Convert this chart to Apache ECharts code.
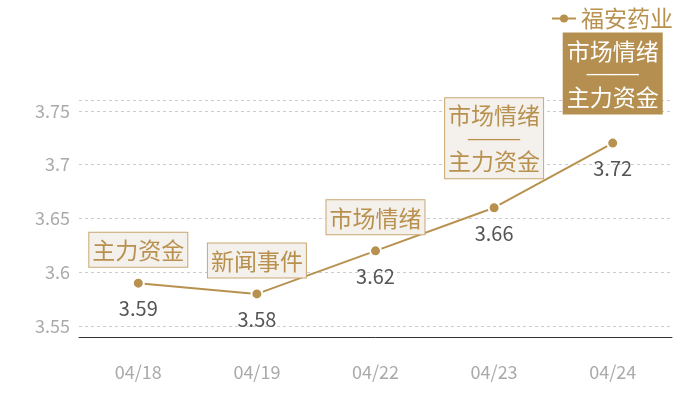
<!DOCTYPE html>
<html>
<head>
<meta charset="utf-8">
<script src="https://cdn.jsdelivr.net/npm/echarts@6/dist/echarts.min.js"></script>
<style>html,body{margin:0;padding:0;background:#fff}#c{width:700px;height:400px}</style>
</head>
<body>
<div id="c"></div>
<script>
var categories = ['04/18', '04/19', '04/22', '04/23', '04/24'];
var seriesName = '福安药业';
var prices = [3.59, 3.58, 3.62, 3.66, 3.72];
var eventLabels = ['主力资金', '新闻事件', '市场情绪', '市场情绪\n——\n主力资金', '市场情绪\n——\n主力资金'];
var highlightLast = [false, false, false, false, true];

var gold = '#b8914f';
var font = '"Noto Sans CJK SC", "Noto Sans", sans-serif';

function boxFormatter(p) {
  return p.name.split('\n').map(function (line) {
    return line.indexOf('—') >= 0 ? '{d|' + line + '}' : '{t|' + line + '}';
  }).join('\n');
}

var markData = categories.map(function (c, i) {
  var multi = eventLabels[i].indexOf('\n') >= 0;
  var hl = highlightLast[i];
  var col = hl ? '#ffffff' : gold;
  return {
    name: eventLabels[i],
    coord: [c, prices[i]],
    label: {
      show: true,
      position: 'top',
      distance: multi ? 29 : 16,
      formatter: boxFormatter,
      color: col,
      backgroundColor: hl ? '#b58f50' : '#f4f0eb',
      borderColor: hl ? '#b58f50' : '#c9a772',
      borderWidth: 1,
      padding: [6, 3, 5, 3],
      align: 'center',
      rich: {
        t: { fontFamily: font, fontSize: 23, lineHeight: 23, color: col },
        d: { fontFamily: '"Liberation Serif"', fontSize: 26, lineHeight: 23, color: col }
      }
    }
  };
});

var chart = echarts.init(document.getElementById('c'));
chart.setOption({
  animation: false,
  textStyle: { fontFamily: font },
  legend: {
    right: 22,
    top: 2,
    itemWidth: 24,
    itemHeight: 10,
    itemGap: 6,
    itemStyle: { borderWidth: 0 },
    textStyle: { color: gold, fontSize: 23, fontFamily: font },
    data: [seriesName]
  },
  grid: { left: 79, right: 28, top: 100, bottom: 63 },
  xAxis: {
    type: 'category',
    data: categories,
    boundaryGap: true,
    axisLine: { lineStyle: { color: '#333', width: 1 } },
    axisTick: { show: false },
    axisLabel: { color: '#aaaaaa', fontSize: 18, margin: 26, fontFamily: font }
  },
  yAxis: {
    type: 'value',
    min: 3.54,
    max: 3.76,
    splitNumber: 5,
    axisLine: { show: false },
    axisTick: { show: false },
    axisLabel: { color: '#aaaaaa', fontSize: 18, margin: 9, showMinLabel: false, showMaxLabel: false, fontFamily: font },
    splitLine: { lineStyle: { color: '#cccccc', type: [3, 3] } }
  },
  series: [{
    name: seriesName,
    type: 'line',
    data: prices,
    symbol: 'circle',
    symbolSize: 11,
    lineStyle: { color: gold, width: 2 },
    itemStyle: { color: gold, borderColor: '#fff', borderWidth: 2 },
    label: {
      show: true,
      position: 'bottom',
      distance: 9,
      color: '#555555',
      fontSize: 20,
      fontFamily: font
    },
    markPoint: {
      symbol: 'circle',
      symbolSize: 1,
      itemStyle: { color: 'rgba(0,0,0,0)' },
      data: markData
    }
  }]
});
</script>
</body>
</html>
